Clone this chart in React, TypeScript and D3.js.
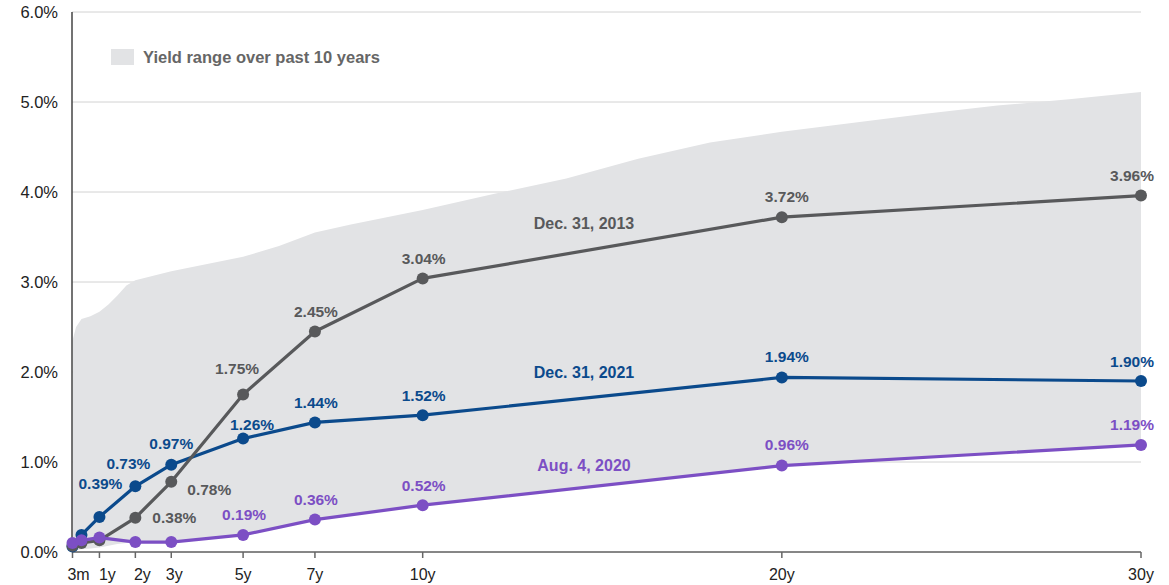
import React from "react";
import * as d3 from "d3";

const tenors = [0.25, 0.5, 1, 2, 3, 5, 7, 10, 20, 30];
const tickTenors = [0.25, 1, 2, 3, 5, 7, 10, 20, 30];
const tickLabels = ["3m", "1y", "2y", "3y", "5y", "7y", "10y", "20y", "30y"];
const yTicks = [0, 1, 2, 3, 4, 5, 6];

const yields2013 = [0.07, 0.1, 0.13, 0.38, 0.78, 1.75, 2.45, 3.04, 3.72, 3.96];
const yields2021 = [0.06, 0.19, 0.39, 0.73, 0.97, 1.26, 1.44, 1.52, 1.94, 1.9];
const yields2020 = [0.1, 0.13, 0.16, 0.11, 0.11, 0.19, 0.36, 0.52, 0.96, 1.19];

const bandTenors = [0.25, 0.35, 0.5, 0.75, 1, 1.25, 1.5, 1.75, 2, 2.5, 3, 4, 5, 6, 7, 8, 9, 10, 12, 14, 16, 18, 20, 22, 24, 26, 28, 30];
const bandHigh = [2.35, 2.5, 2.59, 2.62, 2.67, 2.75, 2.85, 2.96, 3.02, 3.07, 3.12, 3.2, 3.28, 3.4, 3.55, 3.64, 3.72, 3.8, 3.98, 4.15, 4.37, 4.55, 4.67, 4.77, 4.87, 4.96, 5.03, 5.11];
const bandLow = [0.02, 0.02, 0.03, 0.04, 0.05, 0.07, 0.09, 0.1, 0.11, 0.11, 0.11, 0.15, 0.19, 0.27, 0.36, 0.41, 0.47, 0.52, 0.61, 0.7, 0.78, 0.87, 0.96, 1.0, 1.05, 1.1, 1.14, 1.19];

const seriesNames = ["Dec. 31, 2013", "Dec. 31, 2021", "Aug. 4, 2020"];
const legendLabel = "Yield range over past 10 years";

const W = 1169;
const H = 585;
const FONT = "'Liberation Sans', Arial, Helvetica, sans-serif";
const C_GRAY = "#58595b";
const C_BLUE = "#0b4a8c";
const C_PURPLE = "#7c4fc4";
const C_BAND = "#e2e3e5";

const x = d3.scaleLinear().domain([0.25, 30]).range([72.5, 1141]);
const y = d3.scaleLinear().domain([0, 6]).range([552, 12]);

const fmt = (v: number) => v.toFixed(2) + "%";

type LabelPos = { dx: number; dy: number; anchor: string } | null;

function defaultPos(i: number): LabelPos {
  const t = tenors[i];
  if (t === 30) return { dx: -9, dy: -20, anchor: "middle" };
  if (t === 20) return { dx: 5, dy: -21, anchor: "middle" };
  return { dx: 1, dy: -20, anchor: "middle" };
}

function pos2013(i: number): LabelPos {
  const t = tenors[i];
  if (t < 2) return null;
  if (t === 2) return { dx: 17, dy: 0, anchor: "start" };
  if (t === 3) return { dx: 16, dy: 8, anchor: "start" };
  if (t === 5) return { dx: -6, dy: -26, anchor: "middle" };
  return defaultPos(i);
}

function pos2021(i: number): LabelPos {
  const t = tenors[i];
  if (t < 1) return null;
  if (t === 1) return { dx: 1, dy: -33, anchor: "middle" };
  if (t === 2) return { dx: -7, dy: -23, anchor: "middle" };
  if (t === 3) return { dx: 0, dy: -21, anchor: "middle" };
  if (t === 5) return { dx: 9, dy: -14, anchor: "middle" };
  return defaultPos(i);
}

function pos2020(i: number): LabelPos {
  const t = tenors[i];
  if (t < 5) return null;
  return defaultPos(i);
}

const tickLabelDx: Record<string, number> = { "3m": 6, "1y": 8, "2y": 7, "3y": 3 };

function Series({ values, color, posFn }: { values: number[]; color: string; posFn: (i: number) => LabelPos }) {
  const line = d3
    .line<number>()
    .x((_, i) => x(tenors[i]))
    .y((d) => y(d));
  return (
    <g>
      <path d={line(values) || ""} fill="none" stroke={color} strokeWidth={3.2} strokeLinejoin="round" />
      {values.map((v, i) => (
        <circle key={i} cx={x(tenors[i])} cy={y(v)} r={6} fill={color} />
      ))}
      {values.map((v, i) => {
        const p = posFn(i);
        if (!p) return null;
        return (
          <text
            key={"l" + i}
            x={x(tenors[i]) + p.dx}
            y={y(v) + p.dy + 5.5}
            textAnchor={p.anchor}
            fill={color}
            fontSize={15.5}
            fontWeight="bold"
            fontFamily={FONT}
          >
            {fmt(v)}
          </text>
        );
      })}
    </g>
  );
}

export default function App() {
  const area = d3
    .area<number>()
    .x((_, i) => x(bandTenors[i]))
    .y0((_, i) => y(bandLow[i]))
    .y1((d) => y(d));

  return (
    <svg width={W} height={H} style={{ position: "absolute", left: 0, top: 0, background: "#fff" }}>
      {yTicks.map((t) => (
        <line key={t} x1={72} x2={1141} y1={y(t)} y2={y(t)} stroke="#d2d2d2" strokeWidth={1} />
      ))}
      <path d={area(bandHigh) || ""} fill={C_BAND} />

      <line x1={72} x2={72} y1={y(6)} y2={y(0)} stroke="#444" strokeWidth={1.5} />
      <line x1={72} x2={1141} y1={y(0)} y2={y(0)} stroke="#666" strokeWidth={1.5} />
      {tickTenors.map((t, i) => (
        <g key={t}>
          <line x1={x(t)} x2={x(t)} y1={y(0)} y2={y(0) + 6} stroke="#666" strokeWidth={1.5} />
          <text
            x={x(t) + (tickLabelDx[tickLabels[i]] || 0)}
            y={580}
            textAnchor="middle"
            fontSize={16}
            fontFamily={FONT}
            fill="#222"
          >
            {tickLabels[i]}
          </text>
        </g>
      ))}
      {yTicks.map((t) => (
        <text key={t} x={58} y={y(t) + 6} textAnchor="end" fontSize={16.5} fontFamily={FONT} fill="#222">
          {t.toFixed(1) + "%"}
        </text>
      ))}

      <rect x={111} y={49} width={23} height={16} fill={C_BAND} />
      <text x={143} y={62.5} fontSize={16.5} fontWeight="bold" fontFamily={FONT} fill="#666">
        {legendLabel}
      </text>

      <Series values={yields2021} color={C_BLUE} posFn={pos2021} />
      <Series values={yields2013} color={C_GRAY} posFn={pos2013} />
      <Series values={yields2020} color={C_PURPLE} posFn={pos2020} />

      <text x={584} y={229} textAnchor="middle" fontSize={16} fontWeight="bold" fontFamily={FONT} fill={C_GRAY}>
        {seriesNames[0]}
      </text>
      <text x={584} y={378} textAnchor="middle" fontSize={16} fontWeight="bold" fontFamily={FONT} fill={C_BLUE}>
        {seriesNames[1]}
      </text>
      <text x={584} y={471} textAnchor="middle" fontSize={16} fontWeight="bold" fontFamily={FONT} fill={C_PURPLE}>
        {seriesNames[2]}
      </text>
    </svg>
  );
}
